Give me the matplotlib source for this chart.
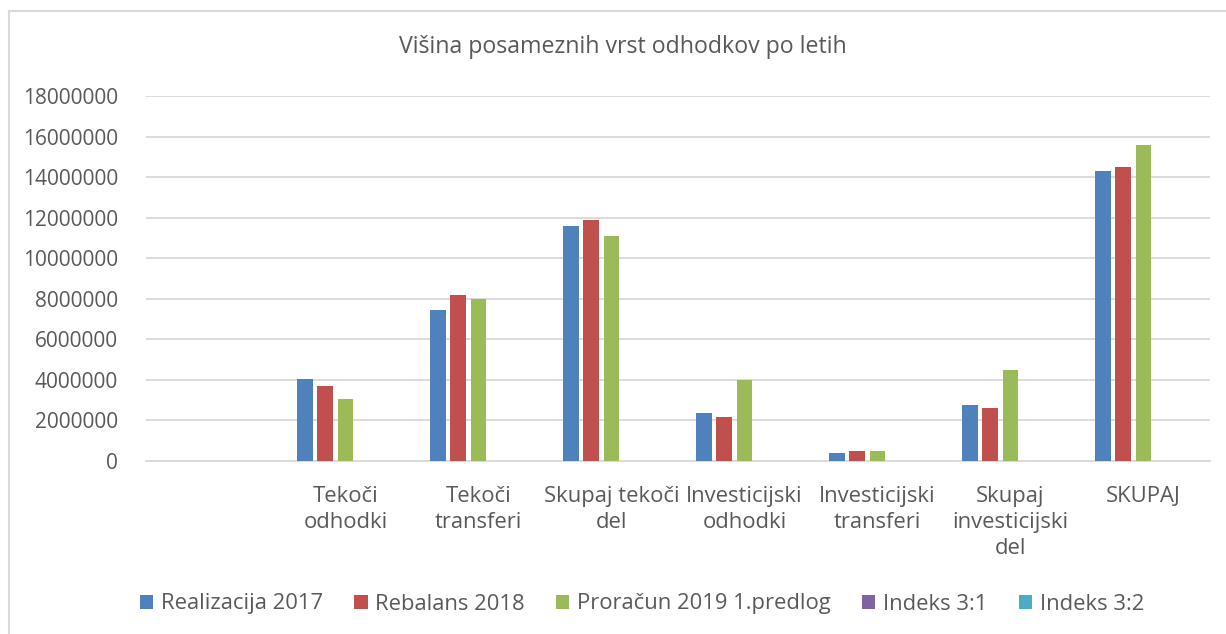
import numpy as np
import matplotlib
matplotlib.use('Agg')
import matplotlib.pyplot as plt
from matplotlib.lines import Line2D

# data
categories = ['', 'Tekoči\nodhodki', 'Tekoči\ntransferi', 'Skupaj tekoči\ndel',
              'Investicijski\nodhodki', 'Investicijski\ntransferi',
              'Skupaj\ninvesticijski\ndel', 'SKUPAJ']
realizacija_2017 = [np.nan, 4060000, 7470000, 11580000, 2360000, 400000, 2740000, 14290000]
rebalans_2018 = [np.nan, 3710000, 8170000, 11900000, 2160000, 500000, 2630000, 14490000]
proracun_2019 = [np.nan, 3080000, 8000000, 11090000, 4000000, 500000, 4490000, 15580000]
indeks_31 = [np.nan, 0.76, 1.07, 0.96, 1.69, 1.25, 1.64, 1.09]
indeks_32 = [np.nan, 0.83, 0.98, 0.93, 1.85, 1.00, 1.71, 1.08]
series_names = ['Realizacija 2017', 'Rebalans 2018', 'Proračun 2019 1.predlog',
                'Indeks 3:1', 'Indeks 3:2']
yticks = [0, 2000000, 4000000, 6000000, 8000000, 10000000, 12000000,
          14000000, 16000000, 18000000]

colors = ['#4f81bd', '#c0504d', '#9bbb59', '#8064a2', '#4bacc6']
txt = '#595959'
grid = '#d9d9d9'

plt.rcParams['font.family'] = ['Open Sans', 'DejaVu Sans']

fig = plt.figure(figsize=(12.26, 6.34), dpi=100)
ax = fig.add_axes([146/1226, 1-461/634, (1210-146)/1226, (461-96)/634])

x = np.arange(len(categories))
slot = 0.154
width = 0.12
all_series = [realizacija_2017, rebalans_2018, proracun_2019, indeks_31, indeks_32]
for i, vals in enumerate(all_series):
    ax.bar(x + (i - 2) * slot, vals, width, color=colors[i], label=series_names[i],
           zorder=3)

ax.set_xlim(-0.5, len(categories) - 0.5)
ax.set_ylim(0, 18000000)
ax.set_yticks(yticks)
ax.set_yticklabels([str(v) for v in yticks])
ax.set_xticks(x)
ax.set_xticklabels(categories, linespacing=1.3)
ax.tick_params(axis='both', length=0, labelcolor=txt)
ax.tick_params(axis='y', labelsize=15, pad=20)
ax.tick_params(axis='x', labelsize=15.8, pad=18)
ax.grid(axis='y', color=grid, linewidth=1.3, zorder=0)
for s in ['top', 'right', 'left']:
    ax.spines[s].set_visible(False)
ax.spines['bottom'].set_color(grid)
ax.spines['bottom'].set_linewidth(1.3)

fig.text(623/1226, 1-47/634, 'Višina posameznih vrst odhodkov po letih',
         ha='center', va='center', fontsize=16.7, color=txt)

leg = fig.legend(loc='center', bbox_to_anchor=(642/1226, 1-604/634), ncol=5,
                 frameon=False, fontsize=15.8, handlelength=0.6, handleheight=0.6,
                 handletextpad=0.35, columnspacing=1.43)
for t in leg.get_texts():
    t.set_color(txt)

# chart area border (left and top edges visible)
fig.add_artist(Line2D([9/1226, 9/1226], [0, 1-11/634], color=grid, lw=1.5))
fig.add_artist(Line2D([9/1226, 1], [1-11/634, 1-11/634], color=grid, lw=1.5))

fig.savefig('out.png', dpi=100)
